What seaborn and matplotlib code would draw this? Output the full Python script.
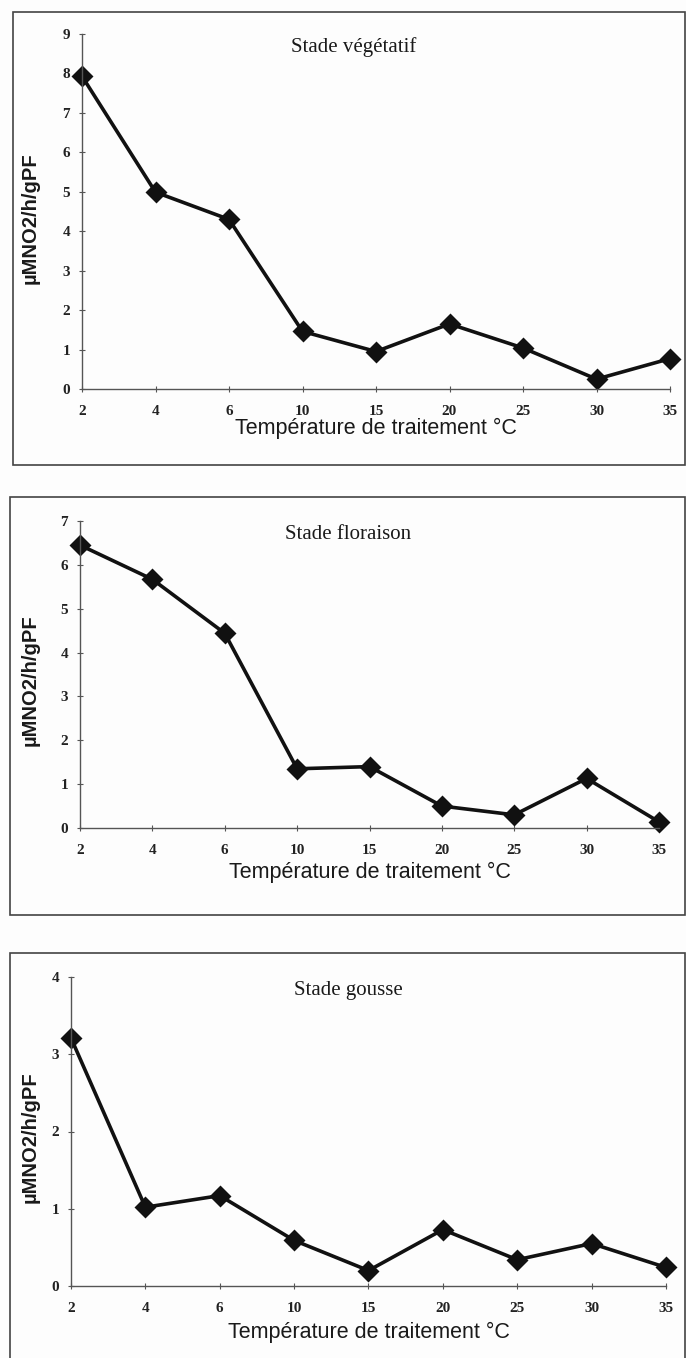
import matplotlib
matplotlib.use("Agg")
import matplotlib.pyplot as plt
import seaborn as sns
from matplotlib.patches import Rectangle

# ---------------- data ----------------
temperatures = ["2", "4", "6", "10", "15", "20", "25", "30", "35"]
vegetatif = [7.93, 4.99, 4.30, 1.46, 0.95, 1.65, 1.04, 0.25, 0.77]
floraison = [6.45, 5.67, 4.44, 1.35, 1.40, 0.50, 0.30, 1.13, 0.14]
gousse = [3.21, 1.02, 1.17, 0.59, 0.20, 0.73, 0.34, 0.55, 0.24]
titles = ["Stade végétatif", "Stade floraison", "Stade gousse"]
ymax = [9, 7, 4]
ylabel = "µMNO2/h/gPF"
xlabel = "Température de traitement °C"

series = [vegetatif, floraison, gousse]

# ---------------- figure ----------------
W, H = 686, 1358
sns.set_theme(style="white")
plt.rcParams["font.family"] = ["Liberation Serif", "DejaVu Serif"]

fig = plt.figure(figsize=(W / 100, H / 100), dpi=100)
fig.patch.set_facecolor("#fdfdfd")

# pixel geometry: (left, right, top(y=max), bottom(y=0))
axes_px = [(82, 670, 34, 389), (80, 659, 521, 828), (71, 666, 977, 1286)]
title_px = [(354, 47), (348, 535), (348, 990)]
xlabel_y = [428, 872, 1332]
frames_px = [(13, 12, 685, 465), (10, 497, 685, 915), (10, 953, 685, 1380)]


def fx(x):
    return x / W


def fy(y):
    return 1 - y / H


for i in range(3):
    l, r, t, b = axes_px[i]
    ax = fig.add_axes([fx(l), fy(b), (r - l) / W, (b - t) / H])
    ax.set_facecolor("none")
    sns.pointplot(x=temperatures, y=series[i], color="#111111", ax=ax,
                  markers="D", linestyles="-", errorbar=None)
    for ln in ax.lines:
        ln.set_linewidth(2.6)
        ln.set_markersize(9)
        ln.set_clip_on(False)
    ax.set_xlim(0, len(temperatures) - 1)
    ax.set_ylim(0, ymax[i])
    ax.set_yticks(range(0, ymax[i] + 1))
    ax.set_xticks(range(len(temperatures)))
    ax.set_xticklabels(temperatures)
    for s in ["top", "right"]:
        ax.spines[s].set_visible(False)
    for s in ["left", "bottom"]:
        ax.spines[s].set_color("#555555")
        ax.spines[s].set_linewidth(1.0)
    ax.tick_params(axis="both", direction="inout", length=5, width=0.8,
                   color="#555555", labelsize=11, labelcolor="#222222",
                   left=True, bottom=True)
    ax.tick_params(axis="y", pad=6)
    ax.tick_params(axis="x", pad=9)
    for lab in ax.get_xticklabels() + ax.get_yticklabels():
        lab.set_fontweight("bold")
    ax.set_xlabel("")
    ax.set_ylabel(ylabel, fontsize=14.5, fontweight="bold",
                  family=["Liberation Sans", "DejaVu Sans"], color="#1a1a1a")
    ax.yaxis.set_label_coords((40 - l) / (r - l), 0.48)
    fig.text(fx((l + r) / 2), fy(xlabel_y[i]), xlabel, ha="center", va="center",
             fontsize=15.5, family=["Liberation Sans", "DejaVu Sans"], color="#1a1a1a")
    fig.text(fx(title_px[i][0]), fy(title_px[i][1]), titles[i], ha="center",
             va="center", fontsize=15, color="#1a1a1a",
             family=["Liberation Serif", "DejaVu Serif"])
    fl, ft, fr, fb = frames_px[i]
    fig.patches.append(Rectangle((fx(fl), fy(fb)), (fr - fl) / W, (fb - ft) / H,
                                 transform=fig.transFigure, fill=False,
                                 edgecolor="#444444", linewidth=1.2))

fig.savefig("out.png", dpi=100, facecolor=fig.get_facecolor())
